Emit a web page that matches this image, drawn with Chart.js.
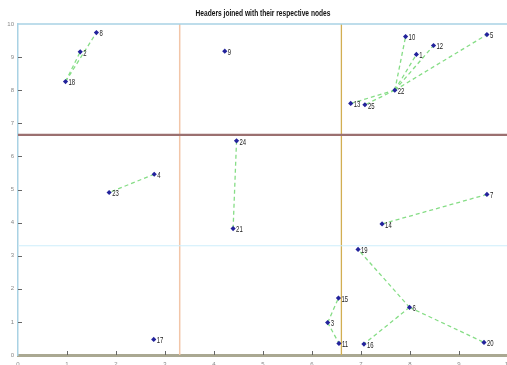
<!DOCTYPE html>
<html>
<head>
<meta charset="utf-8">
<script src="https://cdn.jsdelivr.net/npm/chart.js@4/dist/chart.umd.min.js"></script>
<style>
  html, body { margin: 0; padding: 0; background: #fff; overflow: hidden; }
  #wrap { width: 507px; height: 365px; overflow: hidden; }
</style>
</head>
<body>
<div id="wrap"><canvas id="c" width="512" height="365"></canvas></div>
<script>
// Node ids and their coordinates
const nodeIds = [1, 2, 3, 4, 5, 6, 7, 8, 9, 10, 11, 12, 13, 14, 15, 16, 17, 18, 19, 20, 21, 22, 23, 24, 25];
const nodeX = [8.13, 1.27, 6.32, 2.78, 9.57, 7.99, 9.57, 1.60, 4.22, 7.91, 6.55, 8.48, 6.79, 7.43, 6.54, 7.06, 2.77, 0.97, 6.94, 9.51, 4.39, 7.69, 1.86, 4.46, 7.08];
const nodeY = [9.08, 9.16, 0.98, 5.46, 9.68, 1.44, 4.85, 9.74, 9.18, 9.62, 0.35, 9.35, 7.60, 3.96, 1.72, 0.33, 0.47, 8.26, 3.19, 0.38, 3.82, 8.00, 4.91, 6.47, 7.56];

// Header -> member links
const linkFrom = [18, 18, 22, 22, 22, 22, 22, 22, 4, 24, 14, 6, 6, 6, 3, 3];
const linkTo   = [2, 8, 10, 1, 12, 5, 13, 25, 23, 21, 7, 19, 16, 20, 15, 11];

// Region boundaries
const hLineY = [6.65, 3.30];
const hLineColor = ['#9b7070', '#cdeefb'];
const hLineWidth = [2.2, 1];
const vLineX = [3.30, 6.60];
const vLineColor = ['#f2c6a8', '#d2ae52'];
const vLineWidth = [1.5, 1.3];

// Axis ticks
const tickValues = [0, 1, 2, 3, 4, 5, 6, 7, 8, 9, 10];

const chartTitle = 'Headers joined with their respective nodes';

const idx = id => nodeIds.indexOf(id);
const datasets = [];

hLineY.forEach((y, i) => datasets.push({
  type: 'line', data: [{x: 0, y: y}, {x: 10, y: y}],
  borderColor: hLineColor[i], borderWidth: hLineWidth[i], pointRadius: 0, order: 5
}));
vLineX.forEach((x, i) => datasets.push({
  type: 'line', data: [{x: x, y: 0}, {x: x, y: 10}],
  borderColor: vLineColor[i], borderWidth: vLineWidth[i], pointRadius: 0, order: 5
}));
linkFrom.forEach((a, i) => {
  const b = linkTo[i];
  datasets.push({
    type: 'line',
    data: [{x: nodeX[idx(a)], y: nodeY[idx(a)]}, {x: nodeX[idx(b)], y: nodeY[idx(b)]}],
    borderColor: '#86dd86', borderWidth: 1.3, borderDash: [4, 3], pointRadius: 0, order: 3
  });
});
datasets.push({
  type: 'scatter', label: 'nodes', isNodes: true,
  data: nodeIds.map((id, i) => ({x: nodeX[i], y: nodeY[i]})),
  pointStyle: 'rectRot', pointRadius: 2.6, backgroundColor: '#23239c', borderColor: '#23239c',
  borderWidth: 0, order: 1
});

const FONT = '"Liberation Sans", Arial, sans-serif';

// condensed text helper
function narrowText(ctx, text, x, y, squeeze) {
  ctx.save();
  ctx.translate(x, y);
  ctx.scale(squeeze, 1);
  ctx.fillText(text, 0, 0);
  ctx.restore();
}

// Title, node numbers, inward tick marks, top frame line
const decorations = {
  id: 'decorations',
  afterDatasetsDraw(chart) {
    const ctx = chart.ctx;
    const xs = chart.scales.x, ys = chart.scales.y, ca = chart.chartArea;
    ctx.save();
    // top frame
    ctx.strokeStyle = '#a9d2e4';
    ctx.lineWidth = 1.5;
    ctx.beginPath(); ctx.moveTo(ca.left, ys.getPixelForValue(10)); ctx.lineTo(ca.right, ys.getPixelForValue(10)); ctx.stroke();
    // inward ticks
    ctx.strokeStyle = '#666';
    ctx.lineWidth = 1;
    tickValues.forEach(v => {
      if (v > 0 && v < 10) {
        const py = Math.round(ys.getPixelForValue(v)) + 0.5;
        ctx.beginPath(); ctx.moveTo(ca.left, py); ctx.lineTo(ca.left + 4, py); ctx.stroke();
        const px = Math.round(xs.getPixelForValue(v)) + 0.5;
        ctx.beginPath(); ctx.moveTo(px, ca.bottom); ctx.lineTo(px, ca.bottom - 4); ctx.stroke();
      }
    });
    // title
    ctx.fillStyle = '#111';
    ctx.font = 'bold 8.5px ' + FONT;
    ctx.textBaseline = 'middle';
    ctx.textAlign = 'center';
    narrowText(ctx, chartTitle, (ca.left + ca.right) / 2, 14, 0.78);
    // node labels
    const di = chart.data.datasets.findIndex(d => d.isNodes);
    const meta = chart.getDatasetMeta(di);
    ctx.fillStyle = '#222';
    ctx.font = '8.5px ' + FONT;
    ctx.textAlign = 'left';
    meta.data.forEach((pt, i) => {
      narrowText(ctx, String(nodeIds[i]), pt.x + 3, pt.y + 1.5, 0.7);
    });
    ctx.restore();
  }
};

new Chart(document.getElementById('c'), {
  data: { datasets },
  options: {
    responsive: false,
    animation: false,
    layout: { padding: { left: 0, right: 0, top: 24, bottom: 0 } },
    plugins: {
      legend: { display: false },
      tooltip: { enabled: false },
      title: { display: false }
    },
    scales: {
      x: {
        type: 'linear', min: 0, max: 10,
        grid: { display: false, drawTicks: false },
        border: { color: '#aaa892', width: 3 },
        ticks: { stepSize: 1, color: '#888', font: { size: 6 }, padding: 6, maxRotation: 0, autoSkip: false },
        afterFit(s) { s.height = 10; s.paddingLeft = 0; s.paddingRight = 0; }
      },
      y: {
        type: 'linear', min: 0, max: 10,
        grid: { display: false, drawTicks: false },
        border: { color: '#a9d2e4', width: 1.5 },
        ticks: { stepSize: 1, color: '#888', font: { size: 6 }, padding: 4 },
        afterFit(s) { s.width = 18; s.paddingTop = 0; s.paddingBottom = 0; }
      }
    }
  },
  plugins: [decorations]
});
</script>
</body>
</html>
